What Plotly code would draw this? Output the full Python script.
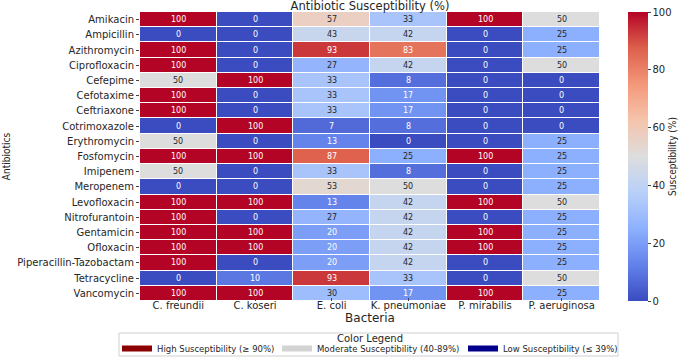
import plotly.graph_objects as go
from plotly.colors import sample_colorscale, unlabel_rgb

# Dados
bacterias = ["C. freundii", "C. koseri", "E. coli", "K. pneumoniae", "P. mirabilis", "P. aeruginosa"]
antibioticos = ["Amikacin", "Ampicillin", "Azithromycin", "Ciprofloxacin", "Cefepime", "Cefotaxime",
                "Ceftriaxone", "Cotrimoxazole", "Erythromycin", "Fosfomycin", "Imipenem", "Meropenem",
                "Levofloxacin", "Nitrofurantoin", "Gentamicin", "Ofloxacin", "Piperacillin-Tazobactam",
                "Tetracycline", "Vancomycin"]

c_freundii = [100, 0, 100, 100, 50, 100, 100, 0, 50, 100, 50, 0, 100, 100, 100, 100, 100, 0, 100]
c_koseri = [0, 0, 0, 0, 100, 0, 0, 100, 0, 100, 0, 0, 100, 0, 100, 100, 0, 10, 100]
e_coli = [57, 43, 93, 27, 33, 33, 33, 7, 13, 87, 33, 53, 13, 27, 20, 20, 20, 93, 30]
k_pneumoniae = [33, 42, 83, 42, 8, 17, 17, 8, 0, 25, 8, 50, 42, 42, 42, 42, 42, 33, 17]
p_mirabilis = [100, 0, 0, 0, 0, 0, 0, 0, 0, 100, 0, 0, 100, 0, 100, 100, 0, 0, 100]
p_aeruginosa = [50, 25, 25, 50, 0, 0, 0, 0, 25, 25, 25, 25, 50, 25, 25, 25, 25, 50, 25]

legenda = ["High Susceptibility (≥ 90%)", "Moderate Susceptibility (40-89%)", "Low Susceptibility (≤ 39%)"]
cores_legenda = ["#8b0000", "#d3d3d3", "#00008b"]

colunas = [c_freundii, c_koseri, e_coli, k_pneumoniae, p_mirabilis, p_aeruginosa]
z = [[col[i] for col in colunas] for i in range(len(antibioticos))]

# coolwarm (matplotlib)
coolwarm = [[0.0, "#3b4cc0"], [0.125, "#6282ea"], [0.25, "#8db0fe"], [0.375, "#b8d0f9"],
            [0.5, "#dddddd"], [0.625, "#f5c4ac"], [0.75, "#f4987a"], [0.875, "#dd604c"],
            [1.0, "#b40426"]]

fonte_estreita = "Liberation Sans Narrow, DejaVu Sans Condensed, Arial Narrow, sans-serif"

# área do gráfico em pixels (margens fixas)
L, T, W, H = 140, 12, 460, 289


def px_x(p):
    return (p - L) / W


def px_y(p):
    return (T + H - p) / H


def luminancia(rgb):
    vals = []
    for v in rgb:
        v = v / 255
        vals.append(v / 12.92 if v <= 0.03928 else ((v + 0.055) / 1.055) ** 2.4)
    return 0.2126 * vals[0] + 0.7152 * vals[1] + 0.0722 * vals[2]


fig = go.Figure(go.Heatmap(
    z=z, x=bacterias, y=antibioticos,
    colorscale=coolwarm, zmin=0, zmax=100,
    xgap=1, ygap=1, showscale=True, showlegend=False,
    colorbar=dict(
        title=dict(text="Susceptibility (%)", side="right",
                   font=dict(size=10, family=fonte_estreita)),
        x=px_x(628), xanchor="left", xpad=0, y=0.5, yanchor="middle", ypad=0,
        len=1, lenmode="fraction",
        thickness=20, outlinewidth=0, ticks="outside", ticklen=3,
        tickvals=[0, 20, 40, 60, 80, 100], tickfont=dict(size=10),
    ),
))

# anotações com cor de texto conforme a luminância da célula
for i, ab in enumerate(antibioticos):
    for j, bac in enumerate(bacterias):
        v = z[i][j]
        cor = sample_colorscale(coolwarm, [v / 100])[0]
        lum = luminancia(unlabel_rgb(cor))
        fig.add_annotation(x=bac, y=ab, text=str(v), showarrow=False,
                           font=dict(size=8, color="#262626" if lum > 0.408 else "white"))

# legenda: uma legenda por item para reproduzir o espaçamento
nomes_leg = ["legend", "legend2", "legend3"]
x_leg = [117, 277, 463]
for nome, cor, lg in zip(legenda, cores_legenda, nomes_leg):
    fig.add_trace(go.Scatter(x=[None], y=[None], mode="lines", name=nome, legend=lg,
                             line=dict(color=cor, width=6)))

leg_cfg = {}
for lg, xp in zip(nomes_leg, x_leg):
    leg_cfg[lg] = dict(orientation="h", xref="paper", yref="paper",
                       x=px_x(xp), xanchor="left", y=px_y(348.5), yanchor="middle",
                       font=dict(size=8.5), borderwidth=0, bgcolor="rgba(0,0,0,0)",
                       itemwidth=30)

fig.add_shape(type="rect", xref="paper", yref="paper",
              x0=px_x(119), x1=px_x(618), y0=px_y(333), y1=px_y(356),
              line=dict(color="#d0d0d0", width=1), fillcolor="rgba(0,0,0,0)", layer="below")
fig.add_annotation(text="Color Legend", xref="paper", yref="paper", x=0.5, y=px_y(338.5),
                   xanchor="center", yanchor="middle", showarrow=False, font=dict(size=10))

fig.update_layout(
    width=685, height=357,
    margin=dict(l=L, r=685 - L - W, t=T, b=357 - T - H, autoexpand=False),
    paper_bgcolor="white", plot_bgcolor="white",
    font=dict(family="DejaVu Sans", size=10, color="#262626"),
    title=dict(text="Antibiotic Susceptibility (%)", x=0.5, xref="paper",
               y=0.983, yref="container", yanchor="middle",
               font=dict(size=11.5)),
    xaxis=dict(title=dict(text="Bacteria", standoff=2), ticks="inside", ticklen=3,
               tickcolor="#444444", ticklabelstandoff=-3,
               showgrid=False, zeroline=False, automargin=False),
    yaxis=dict(title=dict(text="Antibiotics", font=dict(size=10, family=fonte_estreita), standoff=4),
               autorange="reversed",
               ticks="outside", ticklen=3, showgrid=False, zeroline=False, automargin=False,
               tickfont=dict(size=10)),
    showlegend=True,
    **leg_cfg,
)

fig.write_html("out.html", config={"displayModeBar": False},
               post_script="document.body.style.margin='0';")
